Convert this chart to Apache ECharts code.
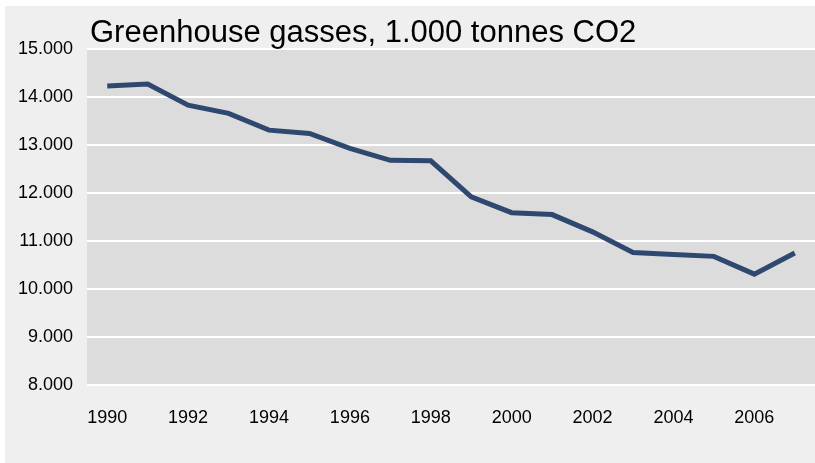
<!DOCTYPE html>
<html>
<head>
<meta charset="utf-8">
<style>
	html, body { margin: 0; padding: 0; background: #fff; }
	#chart { width: 815px; height: 463px; }
</style>
<script src="https://cdn.jsdelivr.net/npm/echarts@6/dist/echarts.min.js"></script>
</head>
<body>
<div id="chart"></div>
<script>
var years = ['1990', '1991', '1992', '1993', '1994', '1995', '1996', '1997', '1998',
	'1999', '2000', '2001', '2002', '2003', '2004', '2005', '2006', '2007'];
var emissions = [14230, 14270, 13830, 13660, 13310, 13240, 12930, 12680, 12670,
	11920, 11590, 11550, 11190, 10760, 10720, 10680, 10310, 10750];
var titleText = 'Greenhouse gasses, 1.000 tonnes CO2';

var chart = echarts.init(document.getElementById('chart'));

// thousands with a dot, like 15.000
function fmt(v) {
	var s = String(Math.round(v));
	return s.replace(/\B(?=(\d{3})+(?!\d))/g, '.');
}

var option = {
	backgroundColor: '#ffffff',
	animation: false,
	graphic: [{
		type: 'rect',
		z: -10,
		shape: { x: 5, y: 6, width: 820, height: 470 },
		style: { fill: '#efefef' }
	}],
	title: {
		text: titleText,
		left: 90,
		top: 18,
		padding: 0,
		textStyle: {
			fontFamily: 'Liberation Sans, Arial, sans-serif',
			fontSize: 31,
			fontWeight: 'normal',
			color: '#000'
		}
	},
	grid: {
		left: 87,
		right: 0,
		top: 49,
		bottom: 78,
		show: true,
		backgroundColor: '#dcdcdc',
		borderWidth: 0
	},
	xAxis: {
		type: 'category',
		data: years,
		boundaryGap: true,
		axisLine: { show: false },
		axisTick: { show: false },
		axisLabel: {
			interval: 1,
			margin: 24,
			fontFamily: 'Liberation Sans, Arial, sans-serif',
			fontSize: 18,
			color: '#000'
		},
		splitLine: { show: false }
	},
	yAxis: {
		type: 'value',
		min: 8000,
		max: 15000,
		interval: 1000,
		axisLine: { show: false },
		axisTick: { show: false },
		axisLabel: {
			margin: 14,
			formatter: fmt,
			fontFamily: 'Liberation Sans, Arial, sans-serif',
			fontSize: 18,
			color: '#000'
		},
		splitLine: { lineStyle: { color: '#ffffff', width: 2 } }
	},
	series: [{
		type: 'line',
		data: emissions,
		showSymbol: false,
		lineStyle: { color: '#2f4870', width: 5, join: 'miter' },
		itemStyle: { color: '#2f4870' }
	}]
};

chart.setOption(option);
</script>
</body>
</html>
